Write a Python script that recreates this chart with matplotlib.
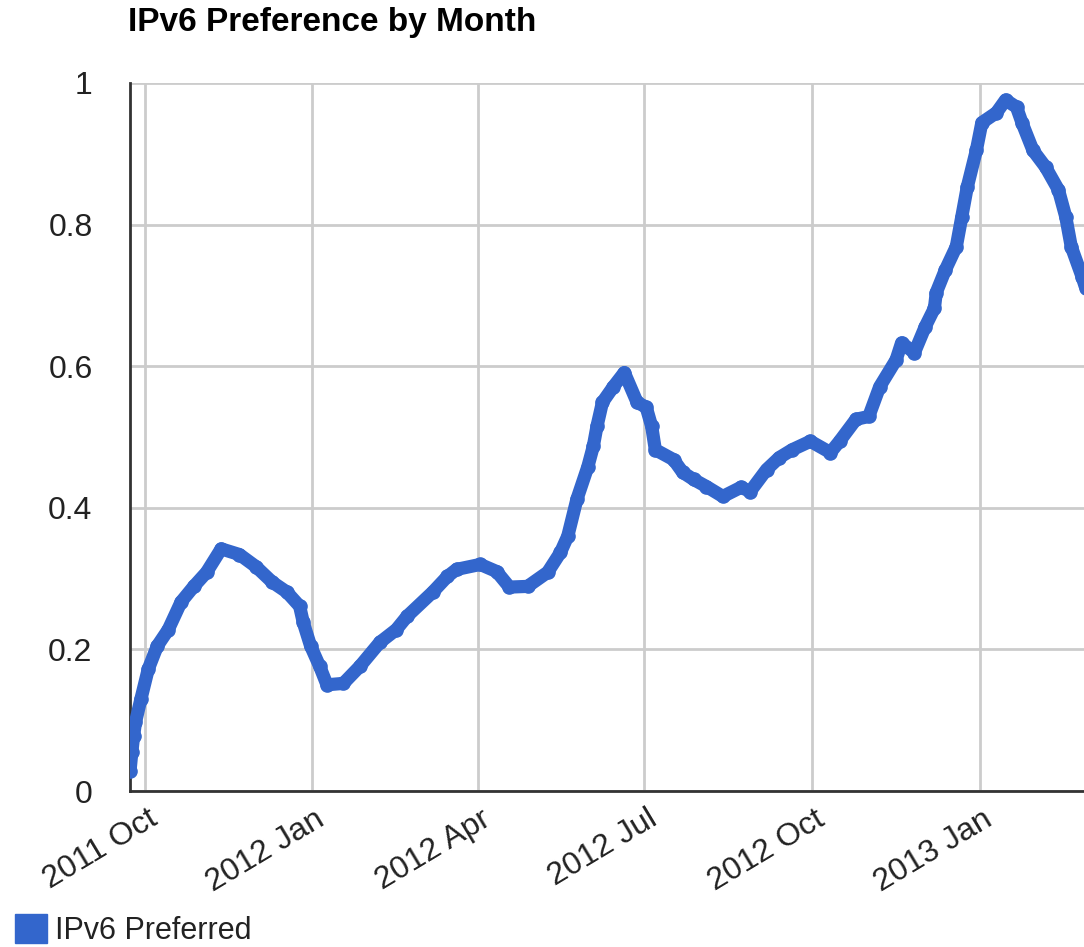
import matplotlib
matplotlib.use("Agg")
import matplotlib.pyplot as plt
import matplotlib.dates as mdates
from matplotlib.patches import Patch
from matplotlib.transforms import ScaledTranslation
import pandas as pd

plt.rcParams['font.family'] = ['Liberation Sans', 'DejaVu Sans']

dates = [
    "2011-09-23", "2011-09-24", "2011-09-25", "2011-09-26", "2011-09-29",
    "2011-10-03", "2011-10-08", "2011-10-14", "2011-10-21", "2011-10-28",
    "2011-11-04", "2011-11-12", "2011-11-22", "2011-12-01", "2011-12-10",
    "2011-12-18", "2011-12-25", "2011-12-27", "2011-12-31", "2012-01-05",
    "2012-01-09", "2012-01-18", "2012-01-27", "2012-02-07", "2012-02-16",
    "2012-02-22", "2012-03-07", "2012-03-15", "2012-03-20", "2012-04-02",
    "2012-04-11", "2012-04-18", "2012-04-28", "2012-05-09", "2012-05-16",
    "2012-05-20", "2012-05-25", "2012-05-31", "2012-06-03", "2012-06-05",
    "2012-06-08", "2012-06-14", "2012-06-20", "2012-06-27", "2012-07-02",
    "2012-07-05", "2012-07-07", "2012-07-17", "2012-07-22", "2012-07-28",
    "2012-08-04", "2012-08-13", "2012-08-23", "2012-08-28", "2012-09-06",
    "2012-09-13", "2012-09-20", "2012-09-30", "2012-10-11", "2012-10-16",
    "2012-10-25", "2012-11-01", "2012-11-07", "2012-11-16", "2012-11-19",
    "2012-11-26", "2012-12-02", "2012-12-07", "2012-12-08", "2012-12-13",
    "2012-12-19", "2012-12-22", "2012-12-25", "2012-12-30", "2013-01-02",
    "2013-01-10", "2013-01-15", "2013-01-21", "2013-01-24", "2013-01-30",
    "2013-02-06", "2013-02-13", "2013-02-17", "2013-02-20", "2013-02-26",
    "2013-02-28",
]
ipv6_preferred = [
    0.028, 0.055, 0.078, 0.097, 0.130,
    0.172, 0.205, 0.228, 0.267, 0.289,
    0.309, 0.342, 0.334, 0.317, 0.295,
    0.281, 0.261, 0.238, 0.205, 0.176,
    0.150, 0.152, 0.176, 0.210, 0.228,
    0.247, 0.281, 0.303, 0.313, 0.320,
    0.310, 0.288, 0.289, 0.309, 0.337,
    0.360, 0.412, 0.458, 0.487, 0.515,
    0.549, 0.571, 0.591, 0.549, 0.542,
    0.515, 0.482, 0.468, 0.450, 0.440,
    0.430, 0.416, 0.429, 0.423, 0.454,
    0.471, 0.482, 0.494, 0.478, 0.494,
    0.525, 0.529, 0.571, 0.609, 0.633,
    0.619, 0.656, 0.682, 0.704, 0.736,
    0.769, 0.811, 0.853, 0.905, 0.944,
    0.958, 0.976, 0.966, 0.944, 0.905,
    0.881, 0.849, 0.811, 0.769, 0.726,
    0.710,
]
tick_dates = ["2011-10-01", "2012-01-01", "2012-04-01", "2012-07-01", "2012-10-01", "2013-01-01"]
tick_labels = ["2011 Oct", "2012 Jan", "2012 Apr", "2012 Jul", "2012 Oct", "2013 Jan"]
y_ticks = [0, 0.2, 0.4, 0.6, 0.8, 1]
y_tick_labels = ["0", "0.2", "0.4", "0.6", "0.8", "1"]

BLUE = "#3366CC"
W, H = 1084, 947
fig = plt.figure(figsize=(W / 100, H / 100), dpi=100)
ax = fig.add_axes([130 / W, 1 - 791 / H, 1 - 130 / W, (791 - 83) / H])

x = pd.to_datetime(dates)
ax.plot(x, ipv6_preferred, color=BLUE, lw=9.5, marker="o", ms=9.5,
        solid_capstyle="round", solid_joinstyle="round", zorder=3)

ax.set_ylim(0, 1)
ax.set_xlim(pd.Timestamp("2011-09-23"), pd.Timestamp("2013-02-27"))
ax.set_yticks(y_ticks)
ax.set_yticklabels(y_tick_labels)
ax.set_xticks(pd.to_datetime(tick_dates))
ax.set_xticklabels(tick_labels)

ax.grid(True, color="#cccccc", lw=2, zorder=0)
ax.set_axisbelow(True)
for s in ["top", "right"]:
    ax.spines[s].set_visible(False)
for s in ["left", "bottom"]:
    ax.spines[s].set_color("#333333")
    ax.spines[s].set_linewidth(2)
ax.tick_params(axis="both", length=0, labelsize=23, labelcolor="#222222")
ax.tick_params(axis="y", pad=27)
ax.tick_params(axis="x", pad=10)
for lab in ax.get_xticklabels():
    lab.set_rotation(31)
    lab.set_ha("right")
    lab.set_va("center")
    lab.set_rotation_mode("anchor")
    lab.set_transform(lab.get_transform() + ScaledTranslation(0.10, -0.12, fig.dpi_scale_trans))

fig.text(128 / W, 1 - 22 / H, "IPv6 Preference by Month", fontsize=24,
         fontweight="bold", color="#000000", ha="left", va="center")

fig.legend(handles=[Patch(facecolor=BLUE, edgecolor=BLUE, label="IPv6 Preferred")],
           loc="lower left", bbox_to_anchor=(15 / W, 1 - 946 / H), frameon=False,
           fontsize=22, handlelength=1.05, handleheight=1.05, handletextpad=0.25,
           borderpad=0, borderaxespad=0, labelcolor="#222222")

fig.savefig("out.png", dpi=100)
